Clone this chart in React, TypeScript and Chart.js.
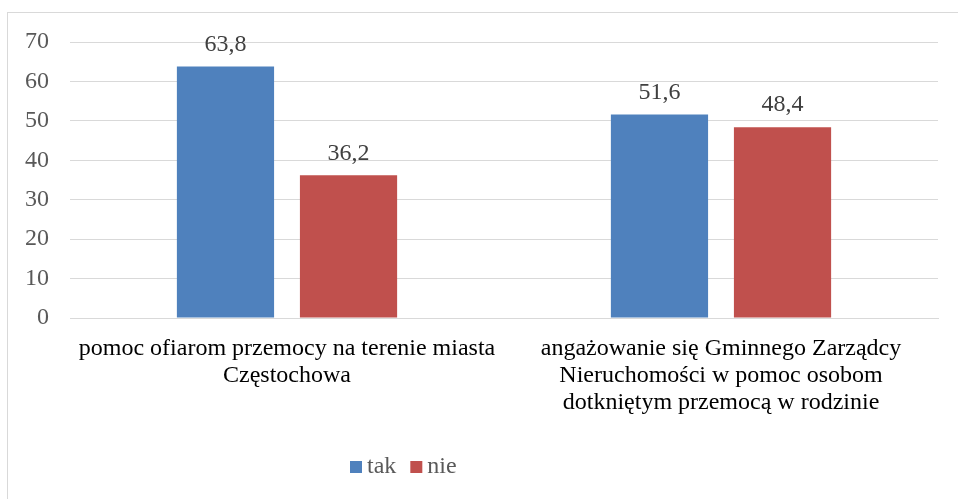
import React, { useEffect, useRef } from 'react';
import { Chart, registerables } from 'chart.js';

Chart.register(...registerables);

const categories: string[][] = [
  ['pomoc ofiarom przemocy na terenie miasta', 'Częstochowa'],
  ['angażowanie się Gminnego Zarządcy', 'Nieruchomości w pomoc osobom', 'dotkniętym przemocą w rodzinie'],
];
const seriesNames = ['tak', 'nie'];
const takValues = [63.8, 51.6];
const nieValues = [36.2, 48.4];
const seriesColors = ['#4F81BD', '#C0504D'];
const yMin = 0;
const yMax = 70;
const yStep = 10;

const FONT = '"Liberation Serif"';

const framePlugin = {
  id: 'frame',
  beforeDraw(chart: any) {
    const ctx = chart.ctx;
    ctx.save();
    ctx.strokeStyle = '#D9D9D9';
    ctx.lineWidth = 1;
    ctx.strokeRect(7.5, 12.5, chart.width + 20, chart.height + 20);
    ctx.restore();
  },
};

const dataLabelPlugin = {
  id: 'dataLabels',
  afterDatasetsDraw(chart: any) {
    const ctx = chart.ctx;
    ctx.save();
    ctx.font = `24px ${FONT}`;
    ctx.fillStyle = '#404040';
    ctx.textAlign = 'center';
    ctx.textBaseline = 'middle';
    chart.data.datasets.forEach((ds: any, i: number) => {
      const meta = chart.getDatasetMeta(i);
      meta.data.forEach((bar: any, j: number) => {
        const v = ds.data[j];
        ctx.fillText(String(v).replace('.', ','), bar.x, bar.y - 22);
      });
    });
    ctx.restore();
  },
};

const legendPlugin = {
  id: 'customLegend',
  afterDraw(chart: any) {
    const ctx = chart.ctx;
    ctx.save();
    ctx.font = `24px ${FONT}`;
    ctx.textBaseline = 'middle';
    ctx.textAlign = 'left';
    let x = 350;
    const yc = 467;
    chart.data.datasets.forEach((ds: any) => {
      ctx.fillStyle = ds.backgroundColor;
      ctx.fillRect(x, yc - 6, 12, 12);
      ctx.fillStyle = '#595959';
      ctx.fillText(ds.label, x + 17, yc);
      x += 17 + ctx.measureText(ds.label).width + 14;
    });
    ctx.restore();
  },
};

export default function App() {
  const ref = useRef<HTMLCanvasElement | null>(null);
  useEffect(() => {
    document.body.style.margin = '0';
    if (!ref.current) return;
    const chart = new Chart(ref.current, {
      type: 'bar',
      data: {
        labels: categories as any,
        datasets: [
          { label: seriesNames[0], data: takValues, backgroundColor: seriesColors[0] },
          { label: seriesNames[1], data: nieValues, backgroundColor: seriesColors[1] },
        ],
      },
      options: {
        animation: false,
        responsive: false,
        layout: { padding: { top: 42, right: 20, left: 0, bottom: 0 } },
        datasets: { bar: { categoryPercentage: 0.567, barPercentage: 0.79 } },
        plugins: {
          legend: { display: false },
          tooltip: { enabled: false },
        },
        scales: {
          x: {
            grid: { display: false, drawTicks: false },
            border: { display: true, color: '#D9D9D9', width: 1 },
            ticks: {
              color: '#000000',
              padding: 17,
              maxRotation: 0,
              autoSkip: false,
              font: { family: FONT, size: 24, lineHeight: '27px' },
            },
            afterFit(scale: any) {
              scale.height = 181;
            },
          },
          y: {
            min: yMin,
            max: yMax,
            ticks: {
              stepSize: yStep,
              color: '#595959',
              padding: 21,
              font: { family: FONT, size: 24 },
            },
            grid: { color: '#D9D9D9', drawTicks: false },
            border: { display: false },
            afterFit(scale: any) {
              scale.width = 70;
            },
          },
        },
      },
      plugins: [framePlugin, dataLabelPlugin, legendPlugin],
    });
    return () => chart.destroy();
  }, []);
  return (
    <div style={{ width: 958, height: 499, background: '#FFFFFF' }}>
      <canvas ref={ref} width={958} height={499} />
    </div>
  );
}
